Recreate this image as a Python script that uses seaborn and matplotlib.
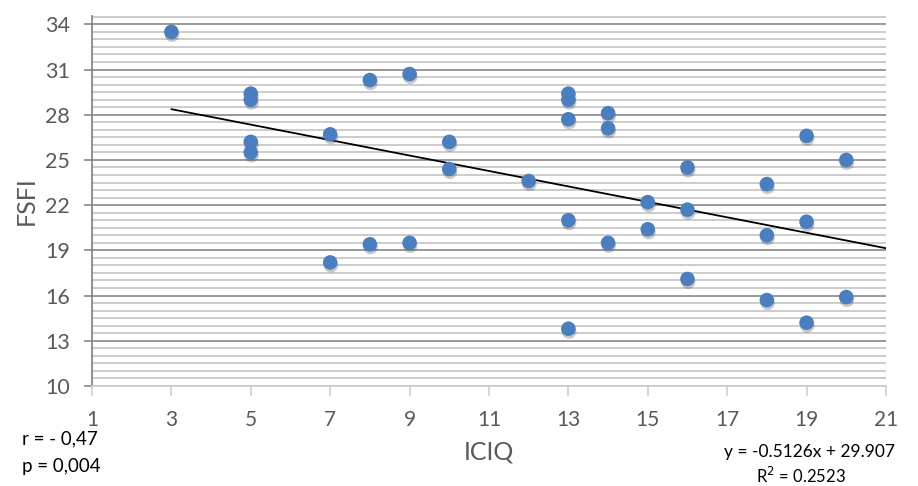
import numpy as np
import pandas as pd
import matplotlib
matplotlib.use('Agg')
import matplotlib.pyplot as plt
import matplotlib.patheffects as pe
from matplotlib.ticker import MultipleLocator
import seaborn as sns

# datos
iciq = [3, 5, 5, 5, 5, 7, 7, 8, 8, 9, 9, 10, 10, 12, 13, 13, 13, 13, 13,
        14, 14, 14, 15, 15, 16, 16, 16, 18, 18, 18, 19, 19, 19, 20, 20]
fsfi = [33.5, 29.4, 29.0, 26.2, 25.5, 26.7, 18.2, 30.3, 19.4, 30.7, 19.5,
        26.2, 24.4, 23.6, 29.4, 29.0, 27.7, 21.0, 13.8, 28.1, 27.1, 19.5,
        22.2, 20.4, 24.5, 21.7, 17.1, 23.4, 20.0, 15.7, 26.6, 20.9, 14.2,
        25.0, 15.9]

# linea de tendencia (ecuacion del grafico)
slope = -0.5126
intercept = 29.907
trend_x = [3, 21]

x_ticks = list(range(1, 22, 2))
y_ticks = list(range(10, 35, 3))

df = pd.DataFrame({'ICIQ': iciq, 'FSFI': fsfi})

sns.set_style('white')
plt.rcParams['font.family'] = ['Lato', 'DejaVu Sans']

fig = plt.figure(figsize=(9.18, 4.86), dpi=100)
ax = fig.add_axes([0.1002, 0.2058, 0.8649, 0.7612])

# rejilla
ax.yaxis.set_minor_locator(MultipleLocator(0.5))
ax.grid(which='minor', axis='y', color='#c4c4c4', linewidth=1.2, zorder=0)
ax.grid(which='major', axis='y', color='#888888', linewidth=1.2, zorder=0)
ax.grid(which='both', axis='x', visible=False)
ax.set_axisbelow(True)

tx = np.array(trend_x, dtype=float)
ax.plot(tx, slope * tx + intercept, color='black', linewidth=1.3, zorder=2)

sns.scatterplot(data=df, x='ICIQ', y='FSFI', ax=ax, s=110, color='#4a7ebf',
                edgecolor='none', zorder=3)
ax.collections[-1].set_path_effects(
    [pe.SimplePatchShadow(offset=(0.5, -2), shadow_rgbFace=(0.3, 0.3, 0.3),
                          alpha=0.3), pe.Normal()])

ax.set_xlim(1, 21)
ax.set_ylim(10, 34.55)
ax.set_xticks(x_ticks)
ax.set_yticks(y_ticks)
ax.tick_params(axis='y', which='major', left=True, length=6, width=1.2,
               color='#888888', labelsize=15.5, labelcolor='#595959', pad=10)
ax.tick_params(axis='y', which='minor', left=False)
ax.tick_params(axis='x', bottom=True, length=7, width=1.2, color='#d0d0d0',
               labelsize=15, labelcolor='#595959', pad=10, direction='out')

for side in ['top', 'right']:
    ax.spines[side].set_visible(False)
ax.spines['left'].set_color('#888888')
ax.spines['left'].set_linewidth(1.3)
ax.spines['bottom'].set_color('#d0d0d0')
ax.spines['bottom'].set_linewidth(1.3)

ax.set_xlabel('ICIQ', fontsize=18, color='#595959', labelpad=8)
ax.set_ylabel('FSFI', fontsize=18, color='#595959', labelpad=5)

fig.text(0.024, 0.097, 'r = - 0,47', fontsize=13.5, color='black', va='center')
fig.text(0.024, 0.04, 'p = 0,004', fontsize=13.5, color='black', va='center')
fig.text(0.975, 0.07, 'y = -0.5126x + 29.907', fontsize=12.5, color='black',
         va='center', ha='right')
fig.text(0.872, 0.02, 'R$^{2}$ = 0.2523', fontsize=12, color='black',
         va='center', ha='center')

fig.savefig('out.png', dpi=100)
